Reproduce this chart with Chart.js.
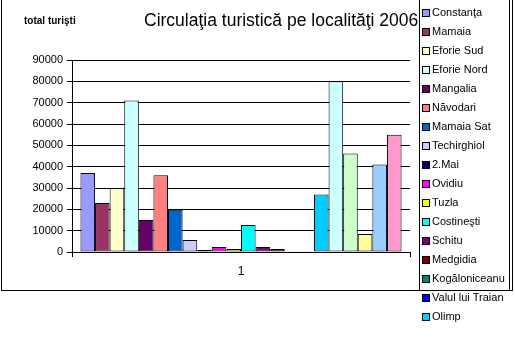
<!DOCTYPE html>
<html lang="ro">
<head>
  <meta charset="UTF-8" />
  <title>Circulaţia turistică pe localităţi 2006</title>
  <script src="https://cdn.jsdelivr.net/npm/chart.js"></script>
  <style>
    body {
      margin: 0;
      padding: 0;
      background-color: #ffffff;
      overflow: hidden;
    }
    canvas {
      display: block;
    }
  </style>
</head>
<body>
  <canvas id="turistiChart" width="515" height="340"></canvas>

  <script>
    // date
    const categorii = ['1'];
    const localitati = [
      'Constanţa', 'Mamaia', 'Eforie Sud', 'Eforie Nord', 'Mangalia', 'Năvodari',
      'Mamaia Sat', 'Techirghiol', '2.Mai', 'Ovidiu', 'Tuzla', 'Costineşti',
      'Schitu', 'Medgidia', 'Kogăloniceanu', 'Valul lui Traian', 'Olimp',
      'Neptun', 'Jupiter', 'Cap Aurora', 'Venus', 'Saturn'
    ];
    const totalTuristi = [
      37000, 23000, 30000, 71000, 15000, 36000,
      19800, 5600, 900, 2300, 1400, 12600,
      2300, 1400, 400, 300, 27000,
      80000, 46200, 8400, 41000, 55000
    ];
    const culori = [
      '#9999FF', '#993366', '#FFFFCC', '#CCFFFF', '#660066', '#FF8080',
      '#0066CC', '#CCCCFF', '#000080', '#FF00FF', '#FFFF00', '#00FFFF',
      '#800080', '#800000', '#008080', '#0000FF', '#00CCFF',
      '#CCFFFF', '#CCFFCC', '#FFFF99', '#99CCFF', '#FF99CC'
    ];
    const valoriAxaY = [0, 10000, 20000, 30000, 40000, 50000, 60000, 70000, 80000, 90000];

    const FONT = 'Arial, "Liberation Sans", sans-serif';

    const datasets = localitati.map((nume, i) => ({
      label: nume,
      data: [totalTuristi[i]],
      backgroundColor: culori[i],
      borderColor: '#000000',
      borderWidth: 1,
      borderSkipped: false
    }));

    // chenarul, titlurile si legenda in stil Excel
    const decorPlugin = {
      id: 'decor',
      afterDraw(chart) {
        const ctx = chart.ctx;
        ctx.save();

        // titlul
        ctx.fillStyle = '#000000';
        ctx.textBaseline = 'middle';
        ctx.textAlign = 'left';
        ctx.font = '17.5px ' + FONT;
        ctx.fillText('Circulaţia turistică pe localităţi 2006', 144, 21);
        ctx.font = 'bold 10px ' + FONT;
        ctx.fillText('total turişti', 24, 21);

        // legenda (fundal alb)
        ctx.fillStyle = '#ffffff';
        ctx.fillRect(420, 0, 89, 290);

        ctx.strokeStyle = '#000000';
        ctx.lineWidth = 1;
        ctx.beginPath();
        ctx.moveTo(1.5, 0);
        ctx.lineTo(1.5, 290.5);
        ctx.moveTo(1, 290.5);
        ctx.lineTo(513, 290.5);
        ctx.moveTo(512.5, 0);
        ctx.lineTo(512.5, 291);
        ctx.moveTo(419.5, 0);
        ctx.lineTo(419.5, 291);
        ctx.moveTo(509.5, 0);
        ctx.lineTo(509.5, 291);
        ctx.stroke();

        ctx.font = '11px ' + FONT;
        chart.data.datasets.forEach((ds, i) => {
          const y = 12.5 + i * 19;
          if (y > 325) return;
          const top = Math.round(y) - 3;
          ctx.fillStyle = ds.backgroundColor;
          ctx.fillRect(423, top, 6, 6);
          ctx.strokeStyle = '#000000';
          ctx.strokeRect(422.5, top - 0.5, 7, 7);
          ctx.fillStyle = '#000000';
          ctx.fillText(ds.label, 432, y);
        });

        ctx.restore();
      }
    };

    const ctx = document.getElementById('turistiChart').getContext('2d');
    new Chart(ctx, {
      type: 'bar',
      data: {
        labels: categorii,
        datasets: datasets
      },
      options: {
        responsive: false,
        animation: false,
        layout: {
          padding: { left: 0, right: 105, top: 60, bottom: 58 }
        },
        datasets: {
          bar: {
            categoryPercentage: 0.95,
            barPercentage: 1
          }
        },
        plugins: {
          legend: { display: false },
          title: { display: false },
          tooltip: { enabled: false }
        },
        scales: {
          x: {
            afterFit(scale) { scale.height = 30; },
            grid: {
              drawOnChartArea: false,
              color: '#000000',
              tickLength: 5
            },
            border: { color: '#000000' },
            ticks: {
              color: '#000000',
              padding: 7,
              font: { family: FONT, size: 12 }
            }
          },
          y: {
            min: 0,
            max: 90000,
            afterFit(scale) { scale.width = 72; },
            afterBuildTicks(scale) {
              scale.ticks = valoriAxaY.map(v => ({ value: v }));
            },
            grid: {
              color: '#000000',
              tickLength: 5
            },
            border: { color: '#000000' },
            ticks: {
              color: '#000000',
              padding: 4,
              font: { family: FONT, size: 11 },
              callback: v => String(v)
            }
          }
        }
      },
      plugins: [decorPlugin]
    });
  </script>
</body>
</html>
